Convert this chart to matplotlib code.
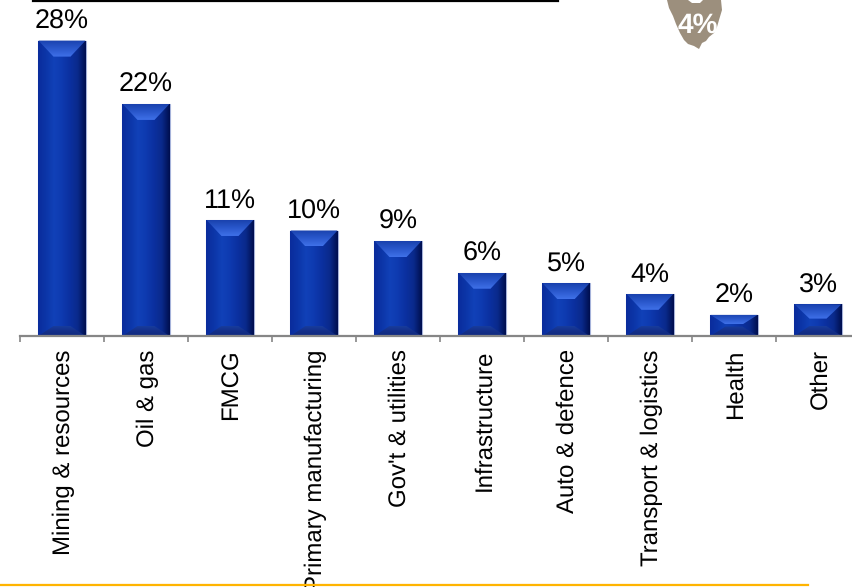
import numpy as np
import matplotlib
matplotlib.use('Agg')
import matplotlib.pyplot as plt
from matplotlib.colors import LinearSegmentedColormap
from matplotlib.lines import Line2D
from matplotlib.patches import Polygon
from matplotlib.transforms import ScaledTranslation

plt.rcParams['font.family'] = ['Liberation Sans', 'DejaVu Sans']
plt.rcParams['text.hinting'] = 'no_hinting'
plt.rcParams['text.hinting_factor'] = 1

categories = ['Mining & resources', 'Oil & gas', 'FMCG', 'Primary manufacturing',
              "Gov't & utilities", 'Infrastructure', 'Auto & defence',
              'Transport & logistics', 'Health', 'Other']
shares = [28, 22, 11, 10, 9, 6, 5, 4, 2, 3]
tas_share = 4

W, H = 852, 587
fig = plt.figure(figsize=(W / 100, H / 100), dpi=100)

# Plot area runs slightly past the right edge, like the slide it came from
px_per_pct = 10.55
base_y = 336
ax = fig.add_axes([20 / W, (H - base_y) / H, 840 / W, 296 / H])
ax.set_xlim(-0.5, 9.5)
ax.set_ylim(0, 296 / px_per_pct)
ax.patch.set_alpha(0)

for s in ['top', 'left', 'right']:
    ax.spines[s].set_visible(False)
ax.spines['bottom'].set_color('#868686')
ax.spines['bottom'].set_linewidth(1.6)
ax.spines['bottom'].set_zorder(5)
ax.set_yticks([])

# Separators as major ticks, category names on minor ticks
ax.set_xticks(np.arange(-0.5, 10, 1))
ax.set_xticklabels([])
ax.tick_params(axis='x', which='major', length=4.5, width=1.2, color='#868686')
ax.set_xticks(np.arange(len(categories)), minor=True)
ax.set_xticklabels(categories, minor=True, rotation=90, fontsize=17.1, va='top', ha='center')
ax.tick_params(axis='x', which='minor', length=0, pad=9.5)
nudge = ScaledTranslation(2 / 100, 0, fig.dpi_scale_trans)
for lab in ax.get_xticklabels(minor=True):
    lab.set_transform(lab.get_transform() + nudge)

face = LinearSegmentedColormap.from_list('face', ['#0a2c9c', '#0c36a8', '#1141b8', '#0e3ab0',
                                                  '#0b30a0', '#0a2a8c', '#000f50'])
top_bevel = LinearSegmentedColormap.from_list('top', ['#1a42ae', '#2a58cc', '#3f70e8'])
low_bevel = LinearSegmentedColormap.from_list('low', ['#183c9c', '#142f88', '#102a80'])

bar_w = 0.56
inset_x = 15 / 84
for i, v in enumerate(shares):
    left, right = i - bar_w / 2, i + bar_w / 2
    rect = ax.bar(i, v, width=bar_w, color='#0c36a8', edgecolor='#a5b2da', linewidth=0.8, zorder=2)[0]

    img = ax.imshow(np.linspace(0, 1, 64).reshape(1, -1), cmap=face, aspect='auto',
                    extent=(left, right, 0, v), zorder=2.1)
    img.set_clip_path(rect)

    # Bevels: sloped caps at top and bottom of every bar
    bev_top = min(16, v * px_per_pct * 0.45) / px_per_pct
    bev_low = min(10, v * px_per_pct * 0.45) / px_per_pct
    tp = Polygon([(left, v), (right, v), (right - inset_x, v - bev_top), (left + inset_x, v - bev_top)],
                 transform=ax.transData, facecolor='none', edgecolor='none')
    ax.add_patch(tp)
    tim = ax.imshow(np.linspace(0, 1, 32).reshape(-1, 1), cmap=top_bevel, aspect='auto',
                    extent=(left, right, v - bev_top, v), origin='upper', zorder=2.2)
    tim.set_clip_path(tp)
    lp = Polygon([(left, 0), (right, 0), (right - inset_x, bev_low), (left + inset_x, bev_low)],
                 transform=ax.transData, facecolor='none', edgecolor='none')
    ax.add_patch(lp)
    lim = ax.imshow(np.linspace(0, 1, 32).reshape(-1, 1), cmap=low_bevel, aspect='auto',
                    extent=(left, right, 0, bev_low), origin='upper', zorder=2.2)
    lim.set_clip_path(lp)

    ax.annotate(f'{v}%', (i, v), xytext=(0, 4.5), textcoords='offset points',
                ha='center', va='bottom', fontsize=19.3, color='black', zorder=4)

ax.set_xlim(-0.5, 9.5)
ax.set_ylim(0, 296 / px_per_pct)

# Overlay in pixel units for the slide furniture
over = fig.add_axes([0, 0, 1, 1])
over.set_xlim(0, W)
over.set_ylim(H, 0)
over.axis('off')
over.patch.set_alpha(0)

over.add_line(Line2D([33, 558], [0.5, 0.5], color='black', lw=1.6))
over.add_line(Line2D([0, 808], [583.5, 583.5], color='#ffe9b0', lw=0.8))
over.add_line(Line2D([0, 808], [585, 585], color='#ffb400', lw=1.6))

# Tasmania outline
tas_x = [667, 669, 673, 676, 680, 684, 688, 694, 699, 702, 706, 709, 714, 717, 719, 722, 721, 703, 700, 692, 688]
tas_y = [0, 8, 16, 24, 33, 40, 44, 46, 49, 43, 41, 37, 33, 27, 20, 10, 0, 0, 3, 3, 0]
over.add_patch(Polygon(np.column_stack([tas_x, tas_y]), closed=True, facecolor='#9c8f7d', edgecolor='none'))
over.text(698, 26, f'{tas_share}%', color='white', fontsize=20, fontweight='bold',
          ha='center', va='center')

fig.savefig('out.png', dpi=100)
